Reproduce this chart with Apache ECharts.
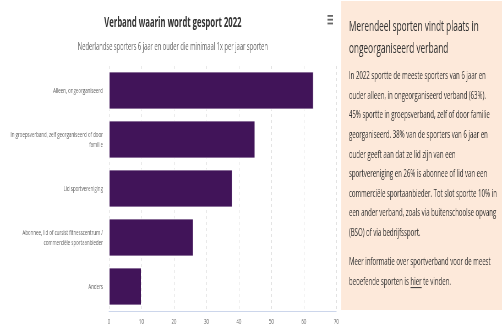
<!DOCTYPE html>
<html>
<head>
<meta charset="utf-8">
<title>Verband waarin wordt gesport 2022</title>
<script src="https://cdn.jsdelivr.net/npm/echarts@6/dist/echarts.min.js"></script>
<style>
  html, body { margin: 0; padding: 0; overflow: hidden; background: #ffffff; }
  /* the stage is laid out wide and squeezed horizontally into the 502px window */
  #stage { width: 912px; height: 331px; transform: scaleX(0.5504); transform-origin: 0 0; }
</style>
</head>
<body>
<div id="stage"></div>
<script>
// ---- data ----
const categories = [
  'Alleen, ongeorganiseerd',
  'In groepsverband, zelf georganiseerd of door\nfamilie',
  'Lid sportvereniging',
  'Abonnee, lid of cursist fitnesscentrum /\ncommerciële sportaanbieder',
  'Anders'
];
const shares = [63, 45, 38, 26, 10];
const axisMin = 0;
const axisMax = 70;
const axisStep = 10;

const chartTitle = 'Verband waarin wordt gesport 2022';
const chartSubtitle = 'Nederlandse sporters 6 jaar en ouder die minimaal 1x per jaar sporten';

const panelHeading = ['Merendeel sporten vindt plaats in', 'ongeorganiseerd verband'];
const panelBody = [
  'In 2022 sportte de meeste sporters van 6 jaar en',
  'ouder alleen, in ongeorganiseerd verband (63%).',
  '45% sportte in groepsverband, zelf of door familie',
  'georganiseerd. 38% van de sporters van 6 jaar en',
  'ouder geeft aan dat ze lid zijn van een',
  'sportvereniging en 26% is abonnee of lid van een',
  'commerciële sportaanbieder. Tot slot sportte 10% in',
  'een ander verband, zoals via buitenschoolse opvang',
  '(BSO) of via bedrijfssport.'
];
const panelMoreLine1 = 'Meer informatie over sportverband voor de meest';
const panelMoreLead = 'beoefende sporten is ';
const panelMoreLink = 'hier';
const panelMoreTail = ' te vinden.';

// ---- styling ----
const FONT = '"Open Sans", "Liberation Sans", sans-serif';
const BAR_COLOR = '#411459';
const PANEL_X = 620, PANEL_Y = 1, PANEL_H = 309;
const TEXT_X = 634;
const BODY_SIZE = 11;
const BODY_FONT = BODY_SIZE + 'px ' + FONT;
const BODY_LH = 19.6;

// width of a string as zrender lays it out
function textWidth(text, font) {
  const t = new echarts.graphic.Text({ style: { text: text, font: font } });
  return t.getBoundingRect().width;
}

const chart = echarts.init(document.getElementById('stage'), null, { renderer: 'canvas' });
const stageW = chart.getWidth();

const moreY = 262;                       // centre of the first line of the second paragraph
const linkLineTop = moreY + BODY_LH / 2; // top of the line holding the link
const leadW = textWidth(panelMoreLead, BODY_FONT);
const linkW = textWidth(panelMoreLink, BODY_FONT);

chart.setOption({
  animation: false,
  backgroundColor: '#ffffff',
  title: [
    {
      text: chartTitle,
      left: 309,
      top: 10,
      textAlign: 'center',
      textStyle: { fontFamily: FONT, fontSize: 14, fontWeight: 'bold', color: '#333333', lineHeight: 16 }
    },
    {
      text: chartSubtitle,
      left: 309,
      top: 35,
      textAlign: 'center',
      textStyle: { fontFamily: FONT, fontSize: 10.5, fontWeight: 'normal', color: '#666666', lineHeight: 14 }
    }
  ],
  grid: { left: 198, right: stageW - 611, top: 66, bottom: 20, containLabel: false },
  xAxis: {
    type: 'value',
    min: axisMin,
    max: axisMax,
    interval: axisStep,
    axisLine: { show: true, lineStyle: { color: '#ccd6eb', width: 1 } },
    axisTick: { show: false },
    axisLabel: { margin: 7, fontFamily: FONT, fontSize: 8, color: '#666666' },
    splitLine: { show: true, lineStyle: { color: '#dcdcdc', type: [3, 3], width: 1 } }
  },
  yAxis: {
    type: 'category',
    data: categories,
    inverse: true,
    axisLine: { show: false },
    axisTick: { show: false },
    axisLabel: { margin: 11, fontFamily: FONT, fontSize: 8, color: '#666666', lineHeight: 10, align: 'right' },
    splitLine: { show: false }
  },
  series: [{
    type: 'bar',
    data: shares,
    barCategoryGap: '22%',
    itemStyle: { color: BAR_COLOR, borderColor: '#ffffff', borderWidth: 1 }
  }],
  graphic: [
    // export menu icon
    { type: 'rect', shape: { x: 595, y: 15, width: 10, height: 1.8 }, style: { fill: '#666666' } },
    { type: 'rect', shape: { x: 595, y: 18.8, width: 10, height: 1.8 }, style: { fill: '#666666' } },
    { type: 'rect', shape: { x: 595, y: 22.6, width: 10, height: 1.8 }, style: { fill: '#666666' } },
    // side panel
    { type: 'rect', shape: { x: PANEL_X, y: PANEL_Y, width: stageW - PANEL_X, height: PANEL_H }, style: { fill: '#fde9da' } },
    {
      type: 'text', x: TEXT_X, y: 16,
      style: { text: panelHeading.join('\n'), font: '15px ' + FONT, fill: '#333333', lineHeight: 22, verticalAlign: 'top' }
    },
    {
      type: 'text', x: TEXT_X, y: 76 - BODY_LH / 2,
      style: { text: panelBody.join('\n'), font: BODY_FONT, fill: '#333333', lineHeight: BODY_LH, verticalAlign: 'top' }
    },
    {
      type: 'text', x: TEXT_X, y: moreY - BODY_LH / 2,
      style: { text: panelMoreLine1, font: BODY_FONT, fill: '#333333', lineHeight: BODY_LH, verticalAlign: 'top' }
    },
    {
      type: 'text', x: TEXT_X, y: linkLineTop,
      style: { text: panelMoreLead, font: BODY_FONT, fill: '#333333', lineHeight: BODY_LH, verticalAlign: 'top' }
    },
    {
      type: 'text', x: TEXT_X + leadW, y: linkLineTop,
      style: { text: panelMoreLink, font: BODY_FONT, fill: '#333333', lineHeight: BODY_LH, verticalAlign: 'top' }
    },
    {
      type: 'text', x: TEXT_X + leadW + linkW, y: linkLineTop,
      style: { text: panelMoreTail, font: BODY_FONT, fill: '#333333', lineHeight: BODY_LH, verticalAlign: 'top' }
    },
    // underline of the link word
    {
      type: 'line',
      shape: { x1: TEXT_X + leadW, y1: linkLineTop + BODY_LH / 2 + 6, x2: TEXT_X + leadW + linkW, y2: linkLineTop + BODY_LH / 2 + 6 },
      style: { stroke: '#333333', lineWidth: 1 }
    }
  ]
});
</script>
</body>
</html>
